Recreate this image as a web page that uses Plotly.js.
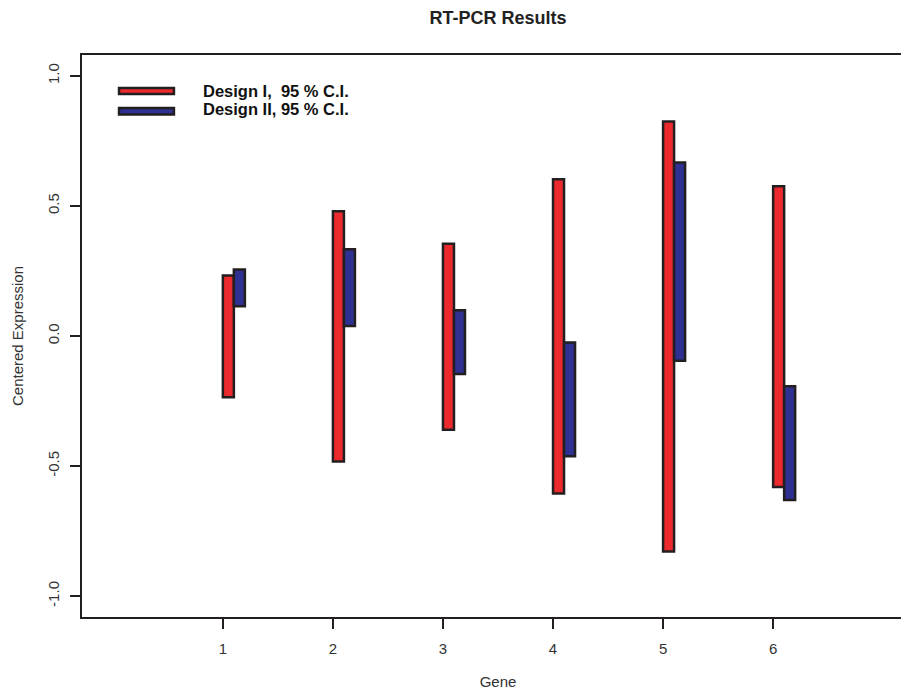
<!DOCTYPE html>
<html>
<head>
<meta charset="utf-8">
<script src="https://cdn.plot.ly/plotly-3.0.1.min.js"></script>
<style>
html, body { margin: 0; padding: 0; overflow: hidden; background: #fff; }
#chart { width: 930px; height: 693px; }
</style>
</head>
<body>
<div id="chart"></div>
<script>
// Data
var genes = [1, 2, 3, 4, 5, 6];
var designILow  = [-0.235, -0.482, -0.360, -0.605, -0.828, -0.580];
var designIHigh = [ 0.233,  0.479,  0.355,  0.602,  0.824,  0.576];
var designIILow  = [ 0.114,  0.038, -0.146, -0.462, -0.095, -0.630];
var designIIHigh = [ 0.256,  0.333,  0.099, -0.025,  0.667, -0.193];
var seriesNames = ["Design I,  95 % C.I.", "Design II, 95 % C.I."];
var xTickLabels = ["1", "2", "3", "4", "5", "6"];
var yTickValues = [-1.0, -0.5, 0.0, 0.5, 1.0];
var yTickLabels = ["-1.0", "-0.5", "0.0", "0.5", "1.0"];

var red = '#EC2A2E', blue = '#2E3191', edge = '#231F20';
var font = 'Liberation Sans, Arial, Helvetica, sans-serif';

function diff(hi, lo) { return hi.map(function (h, i) { return h - lo[i]; }); }

var traces = [
  {
    type: 'bar', x: genes, base: designILow, y: diff(designIHigh, designILow),
    width: 0.1, offset: 0, name: seriesNames[0],
    marker: { color: red, line: { color: edge, width: 2.5 } },
    hoverinfo: 'skip', showlegend: false
  },
  {
    type: 'bar', x: genes, base: designIILow, y: diff(designIIHigh, designIILow),
    width: 0.1, offset: 0.1, name: seriesNames[1],
    marker: { color: blue, line: { color: edge, width: 2.5 } },
    hoverinfo: 'skip', showlegend: false
  }
];

var layout = {
  width: 930, height: 693,
  margin: { l: 82, r: 16, t: 55, b: 76 },
  paper_bgcolor: '#fff', plot_bgcolor: '#fff',
  barmode: 'overlay',
  font: { family: font, color: '#222' },
  title: {
    text: 'RT-PCR Results',
    font: { family: font, size: 18, color: '#222', weight: 'bold' },
    x: 0.5, xref: 'paper', xanchor: 'center',
    y: 1 - 18 / 693, yref: 'container', yanchor: 'middle'
  },
  xaxis: {
    range: [-0.28, 7.28],
    tickvals: genes, ticktext: xTickLabels,
    ticks: 'outside', ticklen: 10, tickwidth: 2, tickcolor: edge,
    showline: true, linewidth: 2, linecolor: edge, mirror: true,
    showgrid: false, zeroline: false,
    tickfont: { family: font, size: 15, color: '#333' },
    ticklabelstandoff: 7,
    title: { text: 'Gene', font: { family: font, size: 15, color: '#333' }, standoff: 20 }
  },
  yaxis: {
    range: [-1.08, 1.08],
    tickvals: yTickValues, ticktext: yTickLabels,
    ticks: 'outside', ticklen: 10, tickwidth: 2, tickcolor: edge,
    showline: true, linewidth: 2, linecolor: edge, mirror: true,
    showgrid: false, zeroline: false,
    tickangle: -90,
    tickfont: { family: font, size: 15, color: '#333' },
    ticklabelstandoff: 5,
    title: { text: 'Centered Expression', font: { family: font, size: 15, color: '#333' }, standoff: 18 }
  },
  shapes: [
    { type: 'rect', xref: 'paper', yref: 'paper', x0: 0.0445, x1: 0.1105, y0: 0.9306, y1: 0.9413,
      fillcolor: red, line: { color: edge, width: 2.5 } },
    { type: 'rect', xref: 'paper', yref: 'paper', x0: 0.0445, x1: 0.1105, y0: 0.8940, y1: 0.9057,
      fillcolor: blue, line: { color: edge, width: 2.5 } }
  ],
  annotations: [
    { text: seriesNames[0], xref: 'paper', yref: 'paper', x: 0.1430, y: 0.9368,
      xanchor: 'left', yanchor: 'middle', showarrow: false,
      font: { family: font, size: 16.5, color: '#111', weight: 'bold' } },
    { text: seriesNames[1], xref: 'paper', yref: 'paper', x: 0.1430, y: 0.9039,
      xanchor: 'left', yanchor: 'middle', showarrow: false,
      font: { family: font, size: 16.5, color: '#111', weight: 'bold' } }
  ]
};

Plotly.newPlot('chart', traces, layout, { displayModeBar: false, staticPlot: true });
</script>
</body>
</html>
